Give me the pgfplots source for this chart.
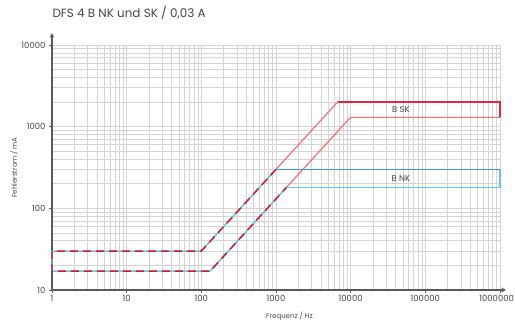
\documentclass[border=0pt]{standalone}
\usepackage{fontspec}
\setmainfont{Poppins}
\usepackage{pgfplots}
\pgfplotsset{compat=1.18}
\definecolor{skred}{RGB}{226,40,58}
\definecolor{skpink}{RGB}{240,112,122}
\definecolor{dashred}{RGB}{215,25,55}
\definecolor{nkblue}{RGB}{58,152,214}
\definecolor{nkcyan}{RGB}{96,200,226}
\definecolor{gridgray}{RGB}{212,212,212}
\definecolor{axgray}{RGB}{90,90,90}
\definecolor{txtgray}{RGB}{70,70,70}
\begin{document}
\begin{tikzpicture}
\begin{axis}[
  scale only axis, width=448bp, height=245bp,
  xmode=log, ymode=log,
  xmin=1, xmax=1e6, ymin=10, ymax=10000,
  axis lines=left,
  axis line style={axgray, line width=1.1pt},
  x axis line style={shorten >=-6bp},
  y axis line style={shorten >=-12bp},
  grid=both,
  major grid style={gridgray, line width=0.7pt},
  minor grid style={gridgray, line width=0.7pt},
  tick align=outside,
  major tick length=3bp, minor tick length=0pt,
  tick style={axgray, line width=0.6pt},
  xtick={1,10,100,1000,10000,100000,1000000},
  xticklabels={1,10,100,1000,10000,100000,{\makebox[28bp][r]{1000000}}},
  ytick={10,100,1000,10000},
  yticklabels={10,100,1000,10000},
  /pgf/number format/assume math mode=true,
  ticklabel style={font=\fontsize{8.5}{10}\selectfont, text=txtgray},
  xticklabel style={yshift=1bp},
  xlabel={Frequenz / Hz},
  ylabel={Fehlerstrom / mA},
  every axis x label/.style={at={(axis description cs:0.53,0)}, anchor=center, yshift=-26bp, font=\fontsize{7}{8}\selectfont, text=txtgray},
  every axis y label/.style={at={(axis description cs:-0.068,0.5)}, rotate=90, anchor=south, font=\fontsize{7}{8}\selectfont, text=txtgray},
  title={DFS 4 B NK und SK / 0,03 A},
  title style={at={(axis description cs:0,1)}, anchor=base west, xshift=-3bp, yshift=22bp, font=\fontsize{12}{14}\selectfont, text=txtgray},
  clip=false,
]
\coordinate (O) at (rel axis cs:0,0);
% SK (non-shared part)
\addplot[skpink, line width=1.2pt] coordinates {(1000,300) (6667,2000) (1000000,2000) (1000000,1300) (9939,1300) (1376,180)};
\addplot[skred, line width=1.3pt] coordinates {(6667,2000) (1000000,2000) (1000000,1300)};
% NK (non-shared part)
\addplot[nkcyan, line width=1.3pt] coordinates {(1000000,300) (1000000,180) (1376,180)};
\addplot[nkblue, line width=1.3pt] coordinates {(1000,300) (1000000,300)};
% shared part
\addplot[nkcyan, line width=1.5pt] coordinates {(1000,300) (100,30) (1,30) (1,17) (130.8,17) (1376,180)};
\addplot[dashred, line width=1.5pt, dash pattern=on 8bp off 5bp] coordinates {(1000,300) (100,30) (1,30) (1,17) (130.8,17) (1376,180)};
\node[font=\fontsize{8.5}{10}\selectfont, text=txtgray] at (axis cs:47000,1600) {B SK};
\node[font=\fontsize{8.5}{10}\selectfont, text=txtgray] at (axis cs:47000,232) {B NK};
\end{axis}
\pgfresetboundingbox
\path[use as bounding box] (O) ++(-52bp,-34bp) rectangle ++(515bp,324bp);
\end{tikzpicture}
\end{document}
